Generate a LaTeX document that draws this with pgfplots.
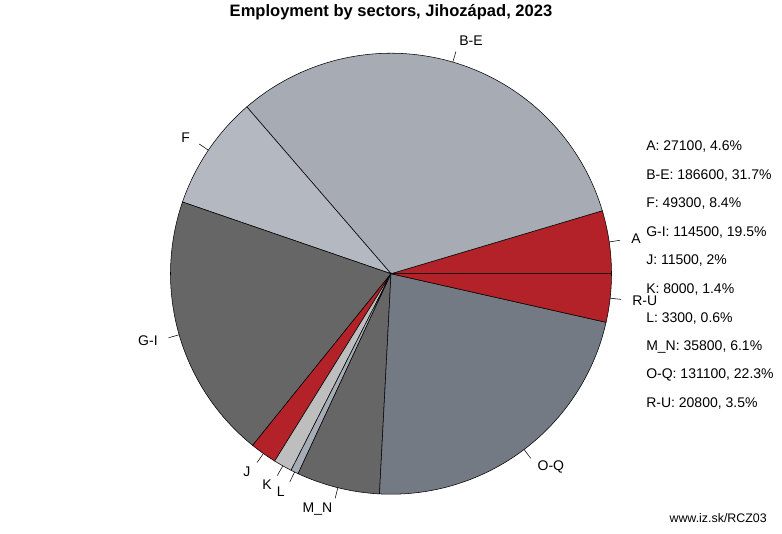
\documentclass[border=0pt]{standalone}
\usepackage{pgfplots}
\pgfplotsset{compat=1.18}
\usepackage{fontspec}
\setmainfont{Liberation Sans}
\definecolor{cRed}{RGB}{178,34,40}
\definecolor{cBE}{RGB}{167,172,180}
\definecolor{cF}{RGB}{180,184,192}
\definecolor{cGI}{RGB}{102,102,102}
\definecolor{cK}{RGB}{190,190,190}
\definecolor{cL}{RGB}{166,172,181}
\definecolor{cMN}{RGB}{102,102,102}
\definecolor{cOQ}{RGB}{115,122,131}
% total = 588000
\newcommand{\slice}[3]{%
  \addplot[fill=#3, draw=black, line width=0.4pt, domain={\fpeval{#1/588000*360}}:{\fpeval{#2/588000*360}}, samples=90, variable=\t]
    ({391+220.5*cos(\t)},{259.5+220.5*sin(\t)}) -- (axis cs:391,259.5) -- cycle;}
\newcommand{\plabel}[4]{%
  \draw[line width=0.4pt] (axis cs:{\fpeval{391+220.5*cosd((#1+#2)/2/588000*360)}},{\fpeval{259.5+220.5*sind((#1+#2)/2/588000*360)}})
     -- (axis cs:{\fpeval{391+1.05*220.5*cosd((#1+#2)/2/588000*360)}},{\fpeval{259.5+1.05*220.5*sind((#1+#2)/2/588000*360)}});
  \node[anchor=#4, inner sep=0pt, font=\fontsize{10.5}{12}\selectfont] at (axis cs:{\fpeval{391+1.1*220.5*cosd((#1+#2)/2/588000*360)}},{\fpeval{259.5+1.1*220.5*sind((#1+#2)/2/588000*360)}}) {#3};}
\begin{document}
\begin{tikzpicture}
\begin{axis}[
  width=586.5pt, height=399pt, scale only axis,
  hide axis, clip=false,
  xmin=0, xmax=782, ymin=0, ymax=532,
]
\path (rel axis cs:0,0) rectangle (rel axis cs:1,1);
% values: A 27100, B-E 186600, F 49300, G-I 114500, J 11500, K 8000, L 3300, M_N 35800, O-Q 131100, R-U 20800
\slice{0}{27100}{cRed}
\slice{27100}{213700}{cBE}
\slice{213700}{263000}{cF}
\slice{263000}{377500}{cGI}
\slice{377500}{389000}{cRed}
\slice{389000}{397000}{cK}
\slice{397000}{400300}{cL}
\slice{400300}{436100}{cMN}
\slice{436100}{567200}{cOQ}
\slice{567200}{588000}{cRed}
\plabel{0}{27100}{A}{west}
\plabel{27100}{213700}{B-E}{west}
\plabel{213700}{263000}{F}{east}
\plabel{263000}{377500}{G-I}{east}
\plabel{377500}{389000}{J}{east}
\plabel{389000}{397000}{K}{east}
\plabel{397000}{400300}{L}{east}
\plabel{400300}{436100}{M\_N}{east}
\plabel{436100}{567200}{O-Q}{west}
\plabel{567200}{588000}{R-U}{west}
\begin{scope}[every node/.style={anchor=west, inner sep=0pt, font=\fontsize{10.5}{12}\selectfont}]
\node at (axis cs:646,386.5) {A: 27100, 4.6\%};
\node at (axis cs:646,357.95) {B-E: 186600, 31.7\%};
\node at (axis cs:646,329.4) {F: 49300, 8.4\%};
\node at (axis cs:646,300.85) {G-I: 114500, 19.5\%};
\node at (axis cs:646,272.3) {J: 11500, 2\%};
\node at (axis cs:646,243.75) {K: 8000, 1.4\%};
\node at (axis cs:646,215.2) {L: 3300, 0.6\%};
\node at (axis cs:646,186.65) {M\_N: 35800, 6.1\%};
\node at (axis cs:646,158.1) {O-Q: 131100, 22.3\%};
\node at (axis cs:646,129.55) {R-U: 20800, 3.5\%};
\end{scope}
\node[font=\bfseries\fontsize{12.4}{14}\selectfont] at (axis cs:391,521) {Employment by sectors, Jihozápad, 2023};
\node[anchor=east, inner sep=0pt, font=\fontsize{9.3}{11}\selectfont] at (axis cs:767,15) {www.iz.sk/RCZ03};
\end{axis}
\end{tikzpicture}
\end{document}
